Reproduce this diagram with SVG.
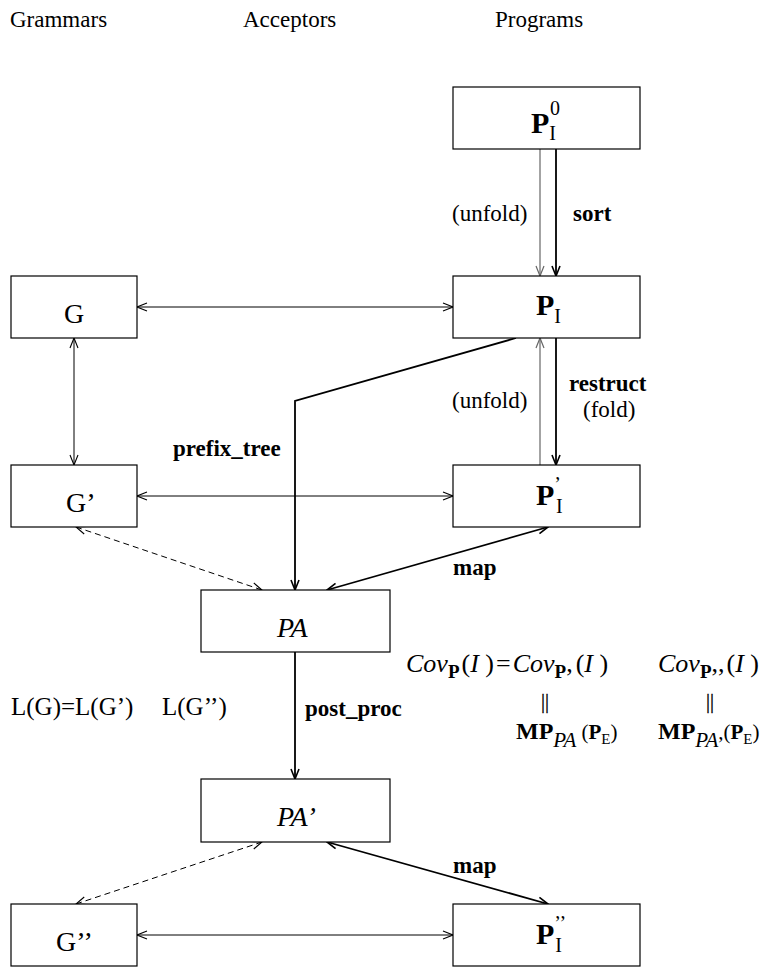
<svg xmlns="http://www.w3.org/2000/svg" width="768" height="972" viewBox="0 0 768 972">
<style>
.box{fill:#fff;stroke:#000;stroke-width:1.2}
text{font-family:"Liberation Serif","Times New Roman",serif;fill:#000}
.h{font-size:23px}
.lab{font-size:23px}
.b{font-weight:bold}
.it{font-style:italic}
.thin{stroke:#000;stroke-width:1;fill:none}
.gray{stroke:#666;stroke-width:1.2;fill:none}
.thick{stroke:#000;stroke-width:1.8;fill:none}
.dash{stroke:#000;stroke-width:1;stroke-dasharray:6 4;fill:none}
.bars{font-size:20px;stroke:#000;stroke-width:0.3}
</style>
<defs>
<marker id="a" viewBox="0 0 12 10" refX="11" refY="5" markerWidth="12" markerHeight="10" markerUnits="userSpaceOnUse" orient="auto-start-reverse"><path d="M1,1 L11,5 L1,9" fill="none" stroke="#000" stroke-width="1.1"/></marker>
<marker id="ag" viewBox="0 0 12 10" refX="11" refY="5" markerWidth="12" markerHeight="10" markerUnits="userSpaceOnUse" orient="auto-start-reverse"><path d="M1,1 L11,5 L1,9" fill="none" stroke="#666" stroke-width="1.2"/></marker>
<marker id="at" viewBox="0 0 12 10" refX="11" refY="5" markerWidth="12" markerHeight="10" markerUnits="userSpaceOnUse" orient="auto-start-reverse"><path d="M1,1 L11,5 L1,9" fill="none" stroke="#000" stroke-width="1.6"/></marker>
</defs>

<g id="headers">
<text class="h" x="10" y="27">Grammars</text>
<text class="h" x="243" y="27">Acceptors</text>
<text class="h" x="495" y="27">Programs</text>
</g>

<g id="connectors">
<line class="gray" x1="540" y1="149" x2="540" y2="276" marker-end="url(#ag)"/>
<line class="thick" x1="556" y1="149" x2="556" y2="276" marker-end="url(#at)"/>
<line class="gray" x1="540" y1="465" x2="540" y2="338" marker-end="url(#ag)"/>
<line class="thick" x1="556" y1="338" x2="556" y2="465" marker-end="url(#at)"/>
<line class="thin" x1="137" y1="307" x2="453" y2="307" marker-start="url(#a)" marker-end="url(#a)"/>
<line class="thin" x1="74" y1="338" x2="74" y2="465" marker-start="url(#a)" marker-end="url(#a)"/>
<line class="thin" x1="137" y1="496" x2="453" y2="496" marker-start="url(#a)" marker-end="url(#a)"/>
<line class="thin" x1="137" y1="935" x2="453" y2="935" marker-start="url(#a)" marker-end="url(#a)"/>
<polyline class="thick" points="516,338 295,401 295,590" marker-end="url(#at)"/>
<line class="thick" x1="548" y1="527" x2="327" y2="590" marker-start="url(#at)" marker-end="url(#at)"/>
<line class="dash" x1="76" y1="527" x2="262" y2="590" marker-start="url(#a)" marker-end="url(#a)"/>
<line class="thick" x1="295" y1="652" x2="295" y2="779" marker-end="url(#at)"/>
<line class="dash" x1="262" y1="842" x2="76" y2="904" marker-start="url(#a)" marker-end="url(#a)"/>
<line class="thick" x1="327" y1="842" x2="548" y2="904" marker-start="url(#at)" marker-end="url(#at)"/>
</g>

<g id="edge-labels">
<text class="lab" x="452" y="221">(unfold)</text>
<text class="lab b" x="573" y="221">sort</text>
<text class="lab" x="452" y="408">(unfold)</text>
<text class="lab b" x="569" y="391">restruct</text>
<text class="lab" x="583" y="417">(fold)</text>
<text class="lab b" x="173" y="456">prefix_tree</text>
<text class="lab b" x="453" y="575">map</text>
<text class="lab b" x="305" y="716">post_proc</text>
<text class="lab b" x="453" y="873">map</text>
</g>

<g id="n-P0">
<rect class="box" x="453" y="87" width="187" height="62"/>
<text x="531" y="133" font-size="30"><tspan font-weight="bold">P</tspan><tspan font-size="20" dy="7">I</tspan><tspan font-size="20" dx="-6" dy="-25">0</tspan></text>
</g>
<g id="n-PI">
<rect class="box" x="453" y="276" width="187" height="62"/>
<text x="536" y="315" font-size="30"><tspan font-weight="bold">P</tspan><tspan font-size="20" dy="8">I</tspan></text>
</g>
<g id="n-G">
<rect class="box" x="11" y="276" width="126" height="62"/>
<text x="74" y="323" font-size="28" text-anchor="middle">G</text>
</g>
<g id="n-G1">
<rect class="box" x="11" y="465" width="126" height="62"/>
<text x="66" y="512" font-size="28">G’</text>
</g>
<g id="n-PI1">
<rect class="box" x="453" y="465" width="187" height="62"/>
<text x="536" y="505" font-size="30"><tspan font-weight="bold">P</tspan><tspan font-size="20" dy="-14">’</tspan><tspan font-size="20" dx="-5" dy="22">I</tspan></text>
</g>
<g id="n-PA">
<rect class="box" x="201" y="590" width="189" height="62"/>
<text x="277" y="637" font-size="28" font-style="italic">PA</text>
</g>
<g id="n-PA1">
<rect class="box" x="201" y="779" width="189" height="63"/>
<text x="277" y="826" font-size="28" font-style="italic">PA’</text>
</g>
<g id="n-G2">
<rect class="box" x="11" y="904" width="126" height="62"/>
<text x="56" y="951" font-size="28">G’’</text>
</g>
<g id="n-PI2">
<rect class="box" x="453" y="904" width="187" height="62"/>
<text x="536" y="944" font-size="30"><tspan font-weight="bold">P</tspan><tspan font-size="20" dy="-14">’’</tspan><tspan font-size="20" dx="-11" dy="22">I</tspan></text>
</g>

<g id="formulas">
<text x="11" y="715" font-size="25">L(G)=L(G’)</text>
<text x="162" y="715" font-size="25">L(G’’)</text>
<text x="406" y="672" font-size="26"><tspan font-style="italic">Cov</tspan><tspan font-weight="bold" font-size="19" dy="6">P</tspan><tspan dy="-6" dx="2">(</tspan><tspan font-style="italic">I</tspan> )<tspan dx="2">=</tspan><tspan font-style="italic" dx="2">Cov</tspan><tspan font-weight="bold" font-size="19" dy="6">P</tspan><tspan dy="-6">,</tspan><tspan dx="3">(</tspan><tspan font-style="italic">I</tspan> )</text>
<text x="658" y="672" font-size="26"><tspan font-style="italic">Cov</tspan><tspan font-weight="bold" font-size="19" dy="6">P</tspan><tspan dy="-6">,,</tspan><tspan dx="2">(</tspan><tspan font-style="italic">I</tspan> )</text>
<text class="bars" x="541" y="708">||</text>
<text class="bars" x="706" y="708">||</text>
<text x="516" y="739" font-size="24"><tspan font-weight="bold">MP</tspan><tspan font-style="italic" font-size="21" dy="8">PA</tspan><tspan dy="-8" font-size="21"> (</tspan><tspan font-weight="bold" font-size="21">P</tspan><tspan font-size="15" dy="5">E</tspan><tspan font-size="21" dy="-5">)</tspan></text>
<text x="658" y="739" font-size="24"><tspan font-weight="bold">MP</tspan><tspan font-style="italic" font-size="21" dy="8">PA</tspan><tspan dy="-8" font-size="21">,(</tspan><tspan font-weight="bold" font-size="21">P</tspan><tspan font-size="15" dy="5">E</tspan><tspan font-size="21" dy="-5">)</tspan></text>
</g>
</svg>
